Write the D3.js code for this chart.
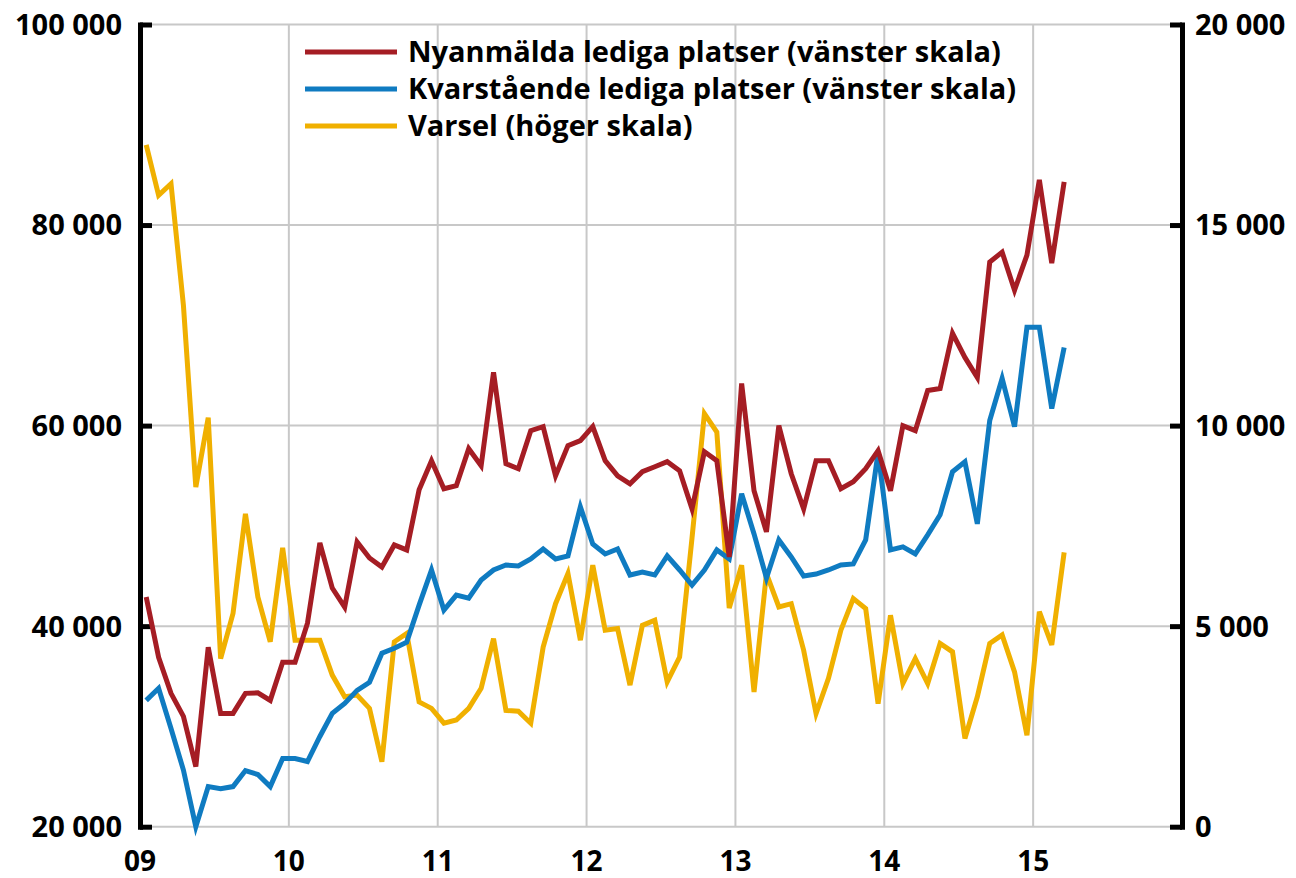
<!DOCTYPE html>
<html>
<head>
<meta charset="utf-8">
<script src="https://cdn.jsdelivr.net/npm/d3@7"></script>
<style>
  body { margin: 0; background: #fff; }
  text { font-family: "Open Sans", "Noto Sans", sans-serif; font-weight: 700; fill: #000; }
</style>
</head>
<body>
<div id="chart"></div>
<script>
// monthly data, Jan 2009 - Mar 2015
var startYear = 2009;

var nyanmalda = [
  42900, 36900, 33300, 31000, 26000, 37900, 31300, 31300, 33300, 33350, 32600, 36400,
  36400, 40300, 48300, 43800, 41900, 48400, 46800, 45900, 48100, 47600, 53600, 56500,
  53700, 54000, 57700, 56000, 65300, 56200, 55700, 59500, 59900, 55000, 58000, 58500,
  59900, 56500, 55000, 54200, 55400, 55900, 56400, 55500, 51700, 57400, 56500, 46900,
  64200, 53500, 49400, 60000, 55200, 51700, 56500, 56500, 53700, 54400, 55700, 57500,
  53500, 60000, 59500, 63500, 63700, 69200, 66800, 64800, 76300, 77300, 73500, 77000,
  84500, 76200, 84300
];

var kvarstaende = [
  32600, 33800, 29800, 25650, 20000, 24000, 23800, 24000, 25600, 25200, 24000, 26800,
  26800, 26500, 29000, 31300, 32300, 33600, 34400, 37300, 37800, 38400, 42100, 45600,
  41600, 43100, 42800, 44600, 45600, 46100, 46000, 46700, 47700, 46700, 47000, 51900,
  48200, 47200, 47700, 45100, 45400, 45100, 47000, 45600, 44100, 45600, 47600, 46700,
  53200, 49200, 44800, 48600, 46900, 45000, 45200, 45600, 46100, 46200, 48600, 57300,
  47600, 47900, 47200, 49100, 51100, 55400, 56400, 50200, 60500, 64700, 59900, 69800,
  69800, 61700, 67800
];

var varsel = [
  17000, 15740, 16030, 13000, 8470, 10200, 4190, 5320, 7800, 5730, 4610, 6950,
  4650, 4650, 4650, 3780, 3240, 3280, 2950, 1620, 4610, 4820, 3110, 2950,
  2580, 2660, 2950, 3450, 4690, 2900, 2880, 2580, 4480, 5560, 6310, 4650,
  6520, 4900, 4940, 3530, 5020, 5150, 3610, 4230, 7200, 10300, 9840, 5450,
  6520, 3360, 6310, 5480, 5560, 4400, 2820, 3700, 4900, 5690, 5440, 3070,
  5270, 3570, 4190, 3570, 4570, 4360, 2200, 3240, 4570, 4780, 3860, 2280,
  5360, 4530, 6840
];

var seriesNames = [
  "Nyanmälda lediga platser (vänster skala)",
  "Kvarstående lediga platser (vänster skala)",
  "Varsel (höger skala)"
];
var seriesColors = ["#a51d24", "#0f7bc1", "#f0b000"];

var leftTicks = [20000, 40000, 60000, 80000, 100000];
var rightTicks = [0, 5000, 10000, 15000, 20000];
var yearTicks = [2009, 2010, 2011, 2012, 2013, 2014, 2015];
var yearLabels = ["09", "10", "11", "12", "13", "14", "15"];

var width = 1296, height = 878;
var plotLeft = 140, plotRight = 1182, plotTop = 24.5, plotBottom = 826.7;

var svg = d3.select("#chart").append("svg")
  .attr("width", width)
  .attr("height", height);

var x = d3.scaleLinear().domain([2009, 2016]).range([plotLeft, plotRight]);
var yL = d3.scaleLinear().domain([20000, 100000]).range([plotBottom, plotTop]);
var yR = d3.scaleLinear().domain([0, 20000]).range([plotBottom, plotTop]);

var fmt = d3.formatLocale({decimal: ",", thousands: " ", grouping: [3], currency: ["", ""]}).format(",d");

// grid
var grid = svg.append("g");
grid.selectAll("line.h")
  .data(leftTicks)
  .enter().append("line")
  .attr("x1", plotLeft).attr("x2", plotRight)
  .attr("y1", d => yL(d)).attr("y2", d => yL(d))
  .attr("stroke", "#c8c8c8").attr("stroke-width", 2);
grid.selectAll("line.v")
  .data(yearTicks.slice(1))
  .enter().append("line")
  .attr("x1", d => x(d)).attr("x2", d => x(d))
  .attr("y1", plotTop).attr("y2", plotBottom)
  .attr("stroke", "#c8c8c8").attr("stroke-width", 2);

// axes
var axL = svg.append("g")
  .attr("transform", "translate(" + plotLeft + ",0)")
  .call(d3.axisRight(yL).tickValues(leftTicks).tickSize(12).tickSizeOuter(0).tickFormat(""));
var axR = svg.append("g")
  .attr("transform", "translate(" + plotRight + ",0)")
  .call(d3.axisLeft(yR).tickValues(rightTicks).tickSize(12).tickSizeOuter(0).tickFormat(""));
[axL, axR].forEach(function(a) {
  a.select(".domain").attr("stroke", "#000").attr("stroke-width", 5).attr("stroke-linecap", "square");
  a.selectAll(".tick line").attr("stroke", "#000").attr("stroke-width", 5);
});

// tick labels
svg.append("g").selectAll("text")
  .data(leftTicks)
  .enter().append("text")
  .attr("x", plotLeft - 18)
  .attr("y", d => yL(d))
  .attr("dy", "0.36em")
  .attr("text-anchor", "end")
  .attr("font-size", "29px")
  .text(d => fmt(d));

svg.append("g").selectAll("text")
  .data(rightTicks)
  .enter().append("text")
  .attr("x", plotRight + 13)
  .attr("y", d => yR(d))
  .attr("dy", "0.36em")
  .attr("text-anchor", "start")
  .attr("font-size", "29px")
  .text(d => fmt(d));

svg.append("g").selectAll("text")
  .data(yearTicks)
  .enter().append("text")
  .attr("x", d => x(d))
  .attr("y", 871)
  .attr("text-anchor", "middle")
  .attr("font-size", "28px")
  .text((d, i) => yearLabels[i]);

// lines
var monthX = (d, i) => x(startYear + (i + 0.5) / 12);
var lineL = d3.line().x(monthX).y(d => yL(d));
var lineR = d3.line().x(monthX).y(d => yR(d));

var plot = svg.append("g");
plot.append("path").datum(varsel)
  .attr("d", lineR).attr("fill", "none")
  .attr("stroke", seriesColors[2]).attr("stroke-width", 5).attr("stroke-linejoin", "miter");
plot.append("path").datum(kvarstaende)
  .attr("d", lineL).attr("fill", "none")
  .attr("stroke", seriesColors[1]).attr("stroke-width", 5).attr("stroke-linejoin", "miter");
plot.append("path").datum(nyanmalda)
  .attr("d", lineL).attr("fill", "none")
  .attr("stroke", seriesColors[0]).attr("stroke-width", 5).attr("stroke-linejoin", "miter");

// legend
var legend = svg.append("g").attr("transform", "translate(305,52)");
var items = legend.selectAll("g")
  .data(seriesNames)
  .enter().append("g")
  .attr("transform", (d, i) => "translate(0," + i * 37 + ")");
items.append("line")
  .attr("x1", 0).attr("x2", 92)
  .attr("stroke", (d, i) => seriesColors[i])
  .attr("stroke-width", 5);
items.append("text")
  .attr("x", 103)
  .attr("dy", "0.36em")
  .attr("font-size", "29px")
  .text(d => d);
</script>
</body>
</html>
